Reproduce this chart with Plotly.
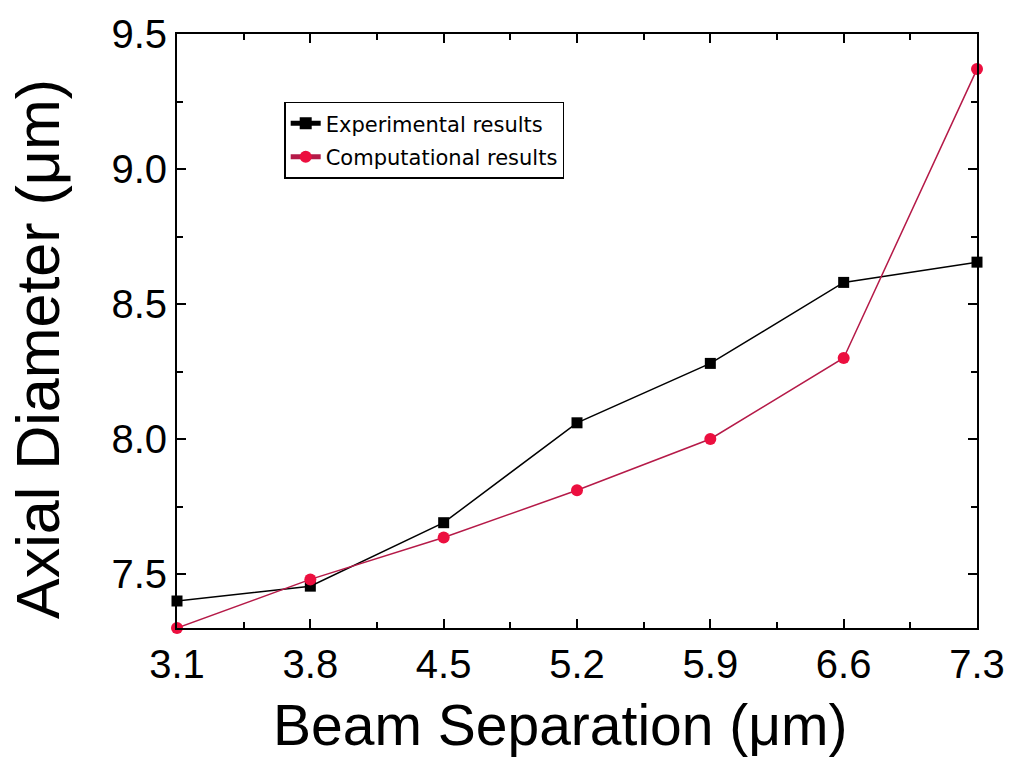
import plotly.graph_objects as go

beam_sep = [3.1, 3.8, 4.5, 5.2, 5.9, 6.6, 7.3]
experimental = [7.40, 7.455, 7.69, 8.06, 8.28, 8.58, 8.655]
computational = [7.30, 7.48, 7.635, 7.81, 8.00, 8.30, 9.37]
x_ticks = [3.1, 3.8, 4.5, 5.2, 5.9, 6.6, 7.3]
y_ticks = [7.5, 8.0, 8.5, 9.0, 9.5]

fig = go.Figure()
fig.add_trace(go.Scatter(
    x=beam_sep, y=experimental, mode="lines+markers",
    name="Experimental results", legendgroup="exp",
    line=dict(color="black", width=1.5),
    marker=dict(symbol="square", size=11, color="black"),
    cliponaxis=False,
))
fig.add_trace(go.Scatter(
    x=beam_sep, y=computational, mode="lines+markers",
    name="Computational results", legendgroup="comp",
    line=dict(color="#b51a48", width=1.5),
    marker=dict(symbol="circle", size=12, color="#ec0f3f"),
    cliponaxis=False,
))

axis_common = dict(
    showgrid=False, zeroline=False, showline=True, linecolor="black",
    linewidth=2, mirror="allticks", ticks="inside", ticklen=9,
    tickwidth=2, tickcolor="black",
    tickfont=dict(family="Liberation Sans, Arial", size=40, color="black"),
)

fig.update_xaxes(
    range=[3.1, 7.3], tickvals=x_ticks, ticktext=[f"{v:.1f}" for v in x_ticks],
    minor=dict(tickvals=[3.45, 4.15, 4.85, 5.55, 6.25, 6.95], ticks="inside",
               ticklen=6, tickwidth=2, tickcolor="black"),
    **axis_common,
)
fig.update_yaxes(
    range=[7.3, 9.5], tickvals=y_ticks, ticktext=[f"{v:.1f}" for v in y_ticks],
    minor=dict(tickvals=[7.75, 8.25, 8.75, 9.25], ticks="inside",
               ticklen=6, tickwidth=2, tickcolor="black"),
    **axis_common,
)

title_font = dict(family="Liberation Sans, Arial", color="black")
fig.add_annotation(
    text="Beam Separation (μm)", xref="paper", yref="paper",
    x=0.479, y=-0.164, xanchor="center", yanchor="middle", showarrow=False,
    font=dict(size=57, **title_font),
)
fig.add_annotation(
    text="Axial Diameter (μm)", xref="paper", yref="paper",
    x=-0.173, y=0.469, xanchor="center", yanchor="middle", showarrow=False,
    textangle=-90, font=dict(size=61, **title_font),
)

fig.update_layout(
    width=1017, height=759,
    margin=dict(l=177, r=36, t=30, b=131),
    paper_bgcolor="white", plot_bgcolor="white",
    showlegend=True,
    legend=dict(
        x=0.134, y=0.886, xanchor="left", yanchor="top",
        bgcolor="white", bordercolor="black", borderwidth=1.5,
        font=dict(family="DejaVu Sans", size=21, color="black"),
        itemsizing="constant", tracegroupgap=3,
    ),
)

fig.write_html("out.html")
